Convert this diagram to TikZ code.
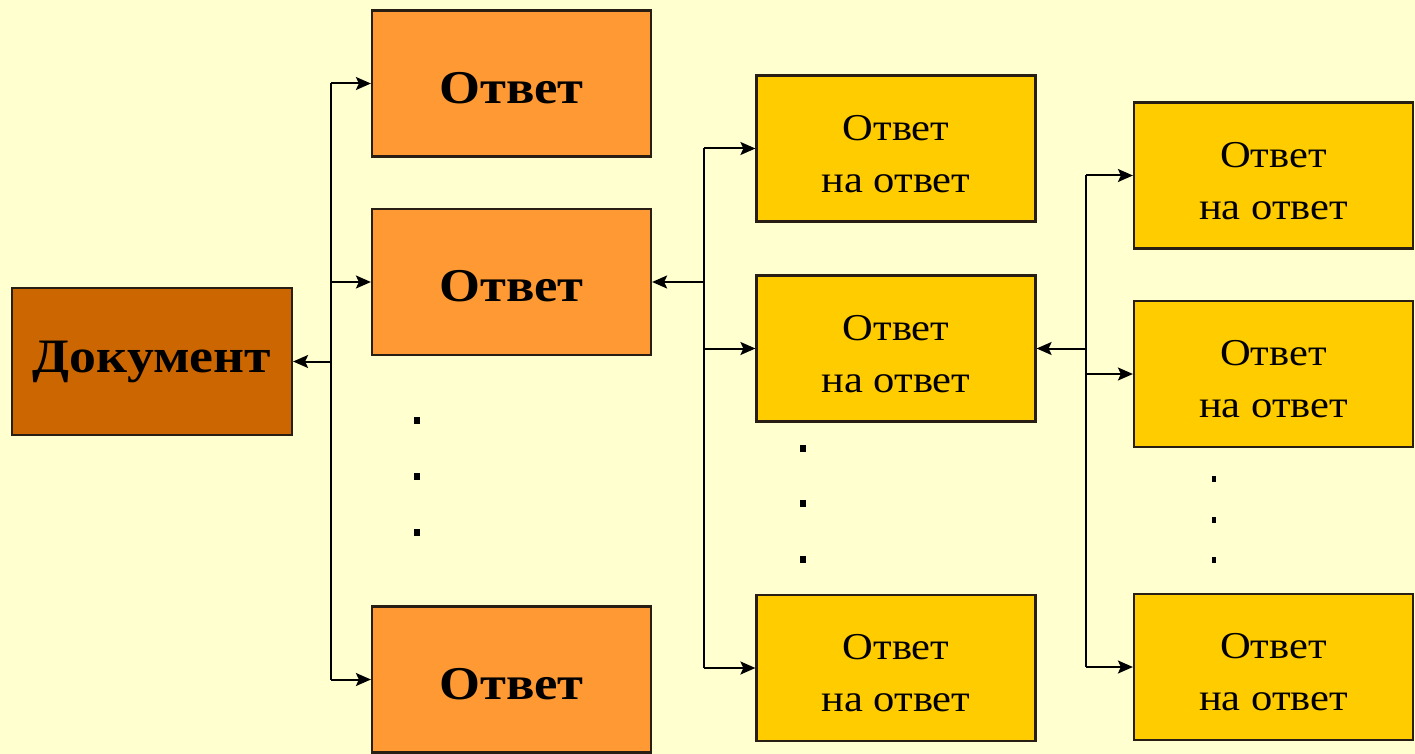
\documentclass[tikz,border=0pt]{standalone}
\usepackage{fontspec}
\setmainfont{Liberation Serif}
\newfontfamily\wideserif[FakeStretch=1.12]{Liberation Serif}
\usetikzlibrary{arrows.meta}
\definecolor{bgcol}{RGB}{255,255,208}
\definecolor{doccol}{RGB}{204,102,0}
\definecolor{anscol}{RGB}{255,153,51}
\definecolor{subcol}{RGB}{255,204,0}
\definecolor{edgecol}{RGB}{40,30,20}
\newcommand{\lowerby}{\rule{0pt}{36pt}}
\tikzset{
  x=1pt, y=-1pt,
  boxbase/.style={draw=edgecol, line width=2.2pt, inner sep=0pt, align=center, text=black},
  docbox/.style={boxbase, fill=doccol, minimum width=280pt, minimum height=147pt,
    font=\wideserif\fontsize{48}{54}\selectfont\bfseries},
  ansbox/.style={boxbase, fill=anscol, minimum width=279pt, minimum height=146pt,
    font=\wideserif\fontsize{47}{54}\selectfont\bfseries},
  subbox/.style={boxbase, fill=subcol, minimum width=279pt, minimum height=146pt,
    font=\wideserif\fontsize{38}{52}\selectfont},
  link/.style={line width=2pt, draw=black},
  arr/.style={link, -{Stealth[length=15pt, width=13pt, inset=3pt]}},
  dotsq/.style={fill=black, inner sep=0pt, minimum width=6pt, minimum height=7pt},
  dotsm/.style={fill=black, inner sep=0pt, minimum width=4pt, minimum height=6pt},
}
\begin{document}
\begin{tikzpicture}
\fill[bgcol] (0,0) rectangle (1415,754);
\useasboundingbox (0,0) rectangle (1415,754);

\node[docbox] (doc) at (152,361.5) {Документ};

\node[ansbox] (o1) at (511.5,83.5) {\rule{0pt}{40pt}Ответ};
\node[ansbox] (o2) at (511.5,282) {\rule{0pt}{40pt}Ответ};
\node[ansbox] (o3) at (511.5,679.5) {\rule{0pt}{40pt}Ответ};

\node[subbox] (m1) at (896,148.5) {\lowerby Ответ\\на ответ};
\node[subbox] (m2) at (896,348.5) {\lowerby Ответ\\на ответ};
\node[subbox] (m3) at (896,668) {\lowerby Ответ\\на ответ};

\node[subbox] (r1) at (1273.5,175.5) {\lowerby Ответ\\на ответ};
\node[subbox] (r2) at (1273.5,374) {\lowerby Ответ\\на ответ};
\node[subbox] (r3) at (1273.5,667) {\lowerby Ответ\\на ответ};

\node[dotsq] (da1) at (417,420) {};
\node[dotsq] (da2) at (417,476) {};
\node[dotsq] (da3) at (417,532) {};
\node[dotsq] (db1) at (803,448) {};
\node[dotsq] (db2) at (803,503) {};
\node[dotsq] (db3) at (803,559) {};
\node[dotsm] (dc1) at (1214,479) {};
\node[dotsm] (dc2) at (1214,520) {};
\node[dotsm] (dc3) at (1214,560) {};

\coordinate (t1) at (331,0);
\coordinate (t2) at (704,0);
\coordinate (t3) at (1086,0);

% trunk 1
\draw[link] (t1 |- o1.west) -- (t1 |- o3.west);
\draw[arr] (t1 |- doc.east) -- (doc.east);
\draw[arr] (t1 |- o1.west) -- (o1.west);
\draw[arr] (t1 |- o2.west) -- (o2.west);
\draw[arr] (t1 |- o3.west) -- (o3.west);

% trunk 2
\draw[link] (t2 |- m1.west) -- (t2 |- m3.west);
\draw[arr] (t2 |- o2.east) -- (o2.east);
\draw[arr] (t2 |- m1.west) -- (m1.west);
\draw[arr] (t2 |- m2.west) -- (m2.west);
\draw[arr] (t2 |- m3.west) -- (m3.west);

% trunk 3
\draw[link] (t3 |- r1.west) -- (t3 |- r3.west);
\draw[arr] (t3 |- m2.east) -- (m2.east);
\draw[arr] (t3 |- r1.west) -- (r1.west);
\draw[arr] (t3 |- r2.west) -- (r2.west);
\draw[arr] (t3 |- r3.west) -- (r3.west);
\end{tikzpicture}
\end{document}
